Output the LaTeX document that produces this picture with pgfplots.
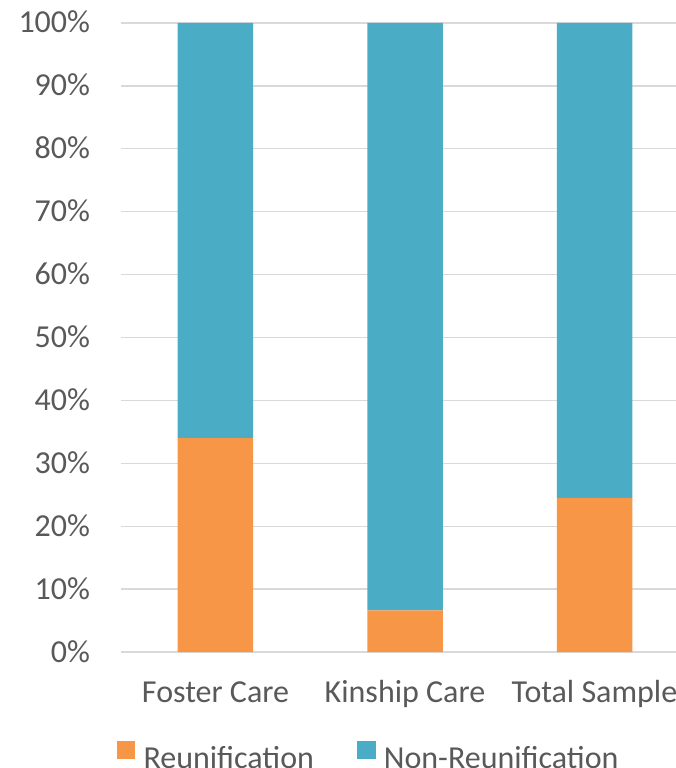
\documentclass[border=0pt]{standalone}
\usepackage{pgfplots}
\pgfplotsset{compat=1.18}
\usepackage{fontspec}
\setmainfont{Carlito}
\definecolor{reun}{HTML}{F79646}
\definecolor{nonreun}{HTML}{4BACC6}
\definecolor{gridc}{HTML}{D9D9D9}
\definecolor{txt}{HTML}{595959}
\begin{document}
\begin{tikzpicture}
\begin{axis}[
  name=ax,
  scale only axis,
  width=568.5pt, height=629pt,
  ybar stacked,
  bar width=75.5pt,
  xmin=-0.5, xmax=2.5,
  ymin=0, ymax=100,
  xtick={0,1,2},
  xticklabels={Foster Care, Kinship Care, Total Sample},
  ytick={0,10,...,100},
  yticklabels={0\%,10\%,20\%,30\%,40\%,50\%,60\%,70\%,80\%,90\%,100\%},
  major tick length=0pt,
  axis line style={draw=none},
  ymajorgrids,
  grid style={gridc, line width=1.3pt},
  font=\fontsize{32}{38}\selectfont,
  tick label style={text=txt, inner sep=0pt},
  yticklabel style={anchor=base east, xshift=-30.5pt, yshift=-10pt},
  xticklabel style={anchor=base, yshift=-50.5pt},
  legend columns=2,
  legend style={draw=none, fill=none, at={(0,0)}, anchor=west, xshift=-4pt, yshift=-103.5pt,
    font=\fontsize{32}{38}\selectfont, text=txt, inner sep=0pt, column sep=0pt,
    nodes={inner sep=0pt},
    /tikz/every odd column/.append style={column sep=8.3pt},
    /tikz/every even column/.append style={column sep=43.3pt}},
  legend image code/.code={\fill[#1] (0pt,0pt) rectangle (18.3pt,18pt);},
]
\addplot[fill=reun, draw=none] coordinates {(0,34.0) (1,6.6) (2,24.5)};
\addplot[fill=nonreun, draw=none] coordinates {(0,66.0) (1,93.4) (2,75.5)};
\legend{Reunification, Non-Reunification}
\end{axis}
\pgfresetboundingbox
\path ([xshift=-120.75pt,yshift=-116pt]ax.south west) rectangle ++(675pt,768pt);
\end{tikzpicture}
\end{document}
